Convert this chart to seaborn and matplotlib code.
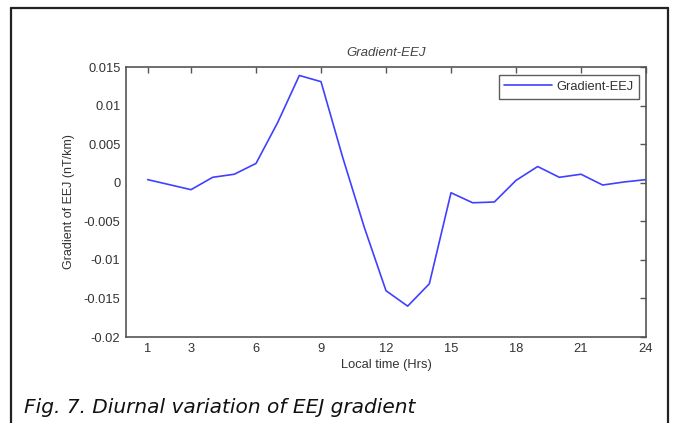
import matplotlib
matplotlib.use("Agg")
import matplotlib.pyplot as plt
import seaborn as sns
import pandas as pd
from matplotlib.lines import Line2D

hours = list(range(1, 25))
gradient = [0.0004, -0.00025, -0.0009, 0.0007, 0.0011, 0.0025, 0.0078, 0.0139,
            0.0131, 0.0033, -0.0058, -0.0140, -0.0160, -0.0131, -0.0013, -0.0026,
            -0.0025, 0.0003, 0.0021, 0.0007, 0.0011, -0.0003, 0.0001, 0.0004]
xticks = [1, 3, 6, 9, 12, 15, 18, 21, 24]
yticks = [-0.02, -0.015, -0.01, -0.005, 0, 0.005, 0.01, 0.015]
ytick_labels = ["-0.02", "-0.015", "-0.01", "-0.005", "0", "0.005", "0.01", "0.015"]

sns.set_style("white")
plt.rcParams['font.family'] = ['Liberation Sans', 'DejaVu Sans']

df = pd.DataFrame({"Local time (Hrs)": hours, "Gradient-EEJ": gradient})

fig = plt.figure(figsize=(6.75, 4.23), dpi=100)
ax = fig.add_axes([126/675, 1-337/423, (646-126)/675, (337-67)/423])

sns.lineplot(data=df, x="Local time (Hrs)", y="Gradient-EEJ", ax=ax,
             color="#4040ff", linewidth=1.2, label="Gradient-EEJ")

ax.set_xlim(0, 24)
ax.set_ylim(-0.02, 0.015)
ax.set_xticks(xticks)
ax.set_yticks(yticks)
ax.set_yticklabels(ytick_labels)
ax.tick_params(direction="in", length=4, width=1, colors="#555555",
               top=True, right=True, labelsize=9.3, labelcolor="#333333", pad=4)
for s in ax.spines.values():
    s.set_color("#555555")
    s.set_linewidth(1.2)

ax.set_xlabel("Local time (Hrs)", fontsize=9.3, color="#333333", labelpad=3)
ax.set_ylabel("Gradient of EEJ (nT/km)", fontsize=9, color="#333333", labelpad=6)
ax.set_title("Gradient-EEJ", fontsize=9.5, style="italic", color="#444444", pad=8)

leg = ax.legend(loc="upper right", fontsize=9.3, frameon=True, fancybox=False,
                edgecolor="#333333", borderpad=0.45, handlelength=3.7,
                handletextpad=0.3, borderaxespad=0,
                bbox_to_anchor=(1 - 7/520, 1 - 8/270))
leg.get_frame().set_linewidth(1.0)
for t in leg.get_texts():
    t.set_color("#333333")

# outer figure frame
for (x0, y0, x1, y1) in [(11, 8, 11, 430), (11, 8, 668, 8), (668, 8, 668, 430)]:
    fig.add_artist(Line2D([x0/675, x1/675], [1-y0/423, 1-y1/423],
                          transform=fig.transFigure, color="#222222", linewidth=1.6))

fig.text(24/675, 1-413/423, "Fig. 7. Diurnal variation of EEJ gradient",
         fontsize=14.5, style="italic", family=["DejaVu Sans"],
         color="#111111", va="baseline", ha="left")

fig.savefig("out.png", dpi=100, facecolor="white")
